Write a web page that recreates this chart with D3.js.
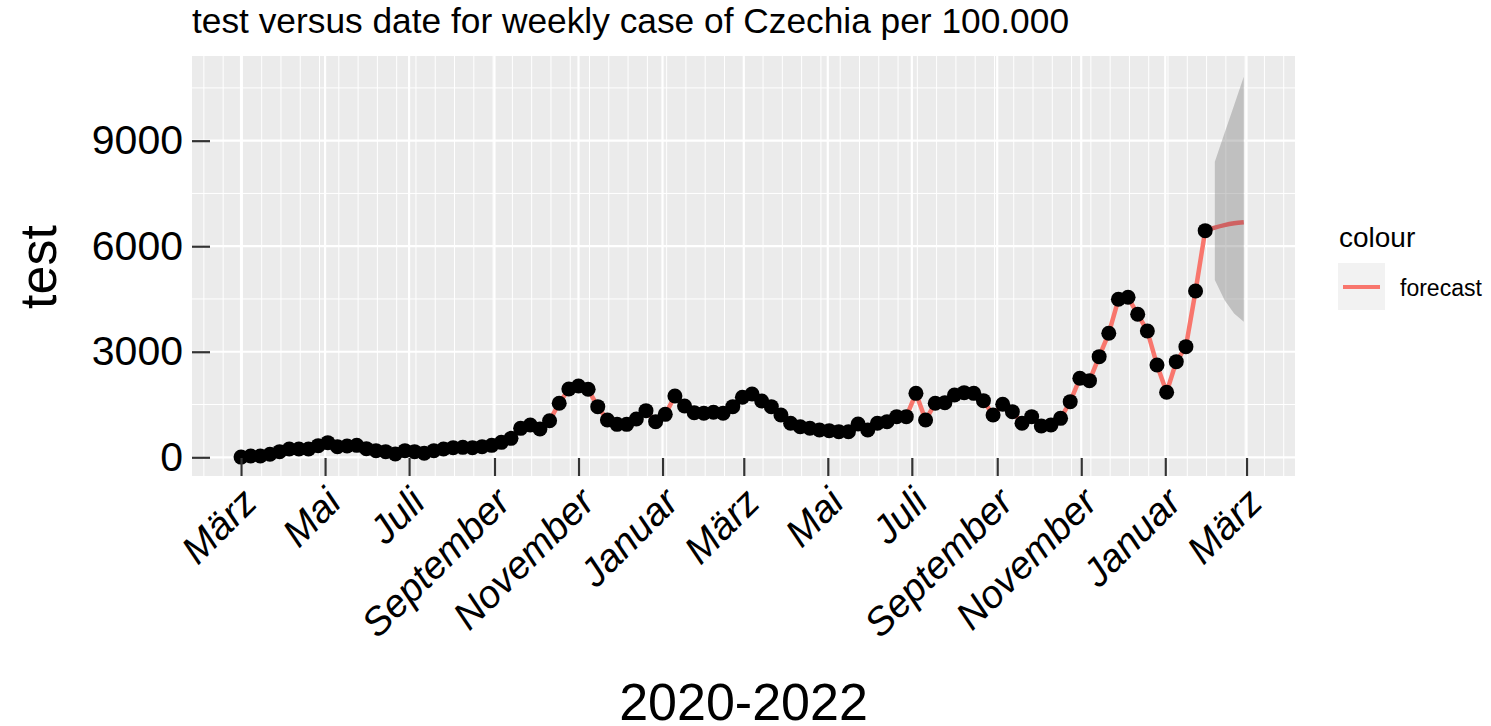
<!DOCTYPE html>
<html>
<head>
<meta charset="utf-8">
<script src="https://cdn.jsdelivr.net/npm/d3@7"></script>
<style>
  body { margin: 0; background: #fff; }
  text { font-family: "Liberation Sans", Arial, sans-serif; fill: #000; }
</style>
</head>
<body>
<div class="visHolder"></div>
<script>
// weekly values, first week starts 2020-03-01
const firstWeek = '2020-03-01';
const cases = [5, 37, 37, 85, 160, 236, 236, 236, 330, 416, 302, 321, 340, 245, 188, 160, 94, 188, 160, 113,
  188, 236, 274, 283, 274, 302, 340, 425, 539, 823, 918, 804, 1040, 1535, 1941, 2027, 1932, 1439, 1060, 937,
  937, 1089, 1325, 1013, 1221, 1742, 1458, 1268, 1250, 1279, 1250, 1439, 1705, 1799, 1600, 1439, 1202, 966, 870, 824,
  776, 757, 728, 728, 947, 776, 966, 1013, 1155, 1155, 1818, 1060, 1535, 1553, 1771, 1837, 1818, 1610, 1202, 1506,
  1297, 966, 1155, 890, 918, 1107, 1581, 2245, 2178, 2860, 3524, 4491, 4548, 4065, 3590, 2624, 1848, 2718, 3145, 4727,
  6442];
// forecast for the 4 weeks after the last observation
const forecastMean = [6530, 6600, 6650, 6680];
const forecastLow = [5040, 4470, 4090, 3855];
const forecastHigh = [8400, 9210, 10010, 10820];

const tickDates = ['2020-03-01', '2020-05-01', '2020-07-01', '2020-09-01', '2020-11-01', '2021-01-01', '2021-03-01',
  '2021-05-01', '2021-07-01', '2021-09-01', '2021-11-01', '2022-01-01', '2022-03-01'];
const tickLabels = ['März', 'Mai', 'Juli', 'September', 'November', 'Januar', 'März', 'Mai', 'Juli', 'September',
  'November', 'Januar', 'März'];
const yTicks = [0, 3000, 6000, 9000];
const yMinor = [1500, 4500, 7500, 10500];

const width = 1491;
const height = 726;
const panel = { left: 192, right: 1295, top: 56, bottom: 476 };
const parse = d3.utcParse('%Y-%m-%d');
const day = 864e5;

const start = parse(firstWeek);
const data = cases.map((v, i) => ({ date: d3.utcDay.offset(start, 7 * i), value: v }));
const last = data[data.length - 1];
const fc = forecastMean.map((v, i) => ({
  date: d3.utcDay.offset(last.date, 7 * (i + 1)),
  value: v, low: forecastLow[i], high: forecastHigh[i]
}));

const xScale = d3.scaleUtc()
  .domain([new Date(+parse('2020-03-01') - 35.6 * day), new Date(+parse('2022-03-01') + 35.2 * day)])
  .range([panel.left, panel.right]);
const yScale = d3.scaleLinear()
  .domain([-532, 11407])
  .range([panel.bottom, panel.top]);

const svg = d3.select('.visHolder')
  .append('svg')
  .attr('width', width)
  .attr('height', height);

svg.append('rect')
  .attr('x', panel.left).attr('y', panel.top)
  .attr('width', panel.right - panel.left).attr('height', panel.bottom - panel.top)
  .attr('fill', '#ebebeb');

// minor vertical grid every two weeks
const minorX = d3.utcDay.range(d3.utcDay.offset(parse('2020-03-02'), -28), xScale.domain()[1])
  .filter((d, i) => i % 14 === 0);
svg.append('g').selectAll('line')
  .data(minorX.filter(d => xScale(d) > panel.left))
  .enter().append('line')
  .attr('x1', d => xScale(d)).attr('x2', d => xScale(d))
  .attr('y1', panel.top).attr('y2', panel.bottom)
  .attr('stroke', '#fff').attr('stroke-width', 1);

svg.append('g').selectAll('line')
  .data(yMinor)
  .enter().append('line')
  .attr('x1', panel.left).attr('x2', panel.right)
  .attr('y1', d => yScale(d)).attr('y2', d => yScale(d))
  .attr('stroke', '#fff').attr('stroke-width', 1);

svg.append('g').selectAll('line')
  .data(tickDates.map(parse))
  .enter().append('line')
  .attr('x1', d => xScale(d)).attr('x2', d => xScale(d))
  .attr('y1', panel.top).attr('y2', panel.bottom)
  .attr('stroke', '#fff').attr('stroke-width', 2.2);

svg.append('g').selectAll('line')
  .data(yTicks)
  .enter().append('line')
  .attr('x1', panel.left).attr('x2', panel.right)
  .attr('y1', d => yScale(d)).attr('y2', d => yScale(d))
  .attr('stroke', '#fff').attr('stroke-width', 2.2);

// observed line
const line = d3.line().x(d => xScale(d.date)).y(d => yScale(d.value));
svg.append('path')
  .datum(data)
  .attr('d', line)
  .attr('fill', 'none')
  .attr('stroke', '#F8766D')
  .attr('stroke-width', 4.5)
  .attr('stroke-linejoin', 'round');

// forecast band + line
const area = d3.area().x(d => xScale(d.date)).y0(d => yScale(d.low)).y1(d => yScale(d.high));
svg.append('path')
  .datum(fc)
  .attr('d', area)
  .attr('fill', '#7f7f7f')
  .attr('fill-opacity', 0.4);

svg.append('path')
  .datum([last].concat(fc))
  .attr('d', d3.line().curve(d3.curveMonotoneX).x(d => xScale(d.date)).y(d => yScale(d.value)))
  .attr('fill', 'none')
  .attr('stroke', '#cf6262')
  .attr('stroke-width', 4.5);

svg.append('g').selectAll('circle')
  .data(data)
  .enter().append('circle')
  .attr('cx', d => xScale(d.date))
  .attr('cy', d => yScale(d.value))
  .attr('r', 7.5)
  .attr('fill', '#000');

// axes, ticks point into the panel
const xAxis = d3.axisBottom(xScale)
  .tickValues(tickDates.map(parse))
  .tickFormat((d, i) => tickLabels[i])
  .tickSize(-18);
const gx = svg.append('g')
  .attr('transform', 'translate(0,' + panel.bottom + ')')
  .call(xAxis);
gx.select('.domain').remove();
gx.selectAll('.tick line').attr('stroke', '#333').attr('stroke-width', 2.2);
gx.selectAll('.tick text')
  .attr('font-size', 39)
  .attr('font-style', 'italic')
  .attr('font-family', null)
  .attr('fill', '#000')
  .attr('text-anchor', 'end')
  .attr('y', 0)
  .attr('dy', '0.71em')
  .attr('transform', 'translate(-2,9) rotate(-45)');

const yAxis = d3.axisLeft(yScale)
  .tickValues(yTicks)
  .tickFormat(d3.format('d'))
  .tickSize(-18)
  .tickPadding(9);
const gy = svg.append('g')
  .attr('transform', 'translate(' + panel.left + ',0)')
  .call(yAxis);
gy.select('.domain').remove();
gy.selectAll('.tick line').attr('stroke', '#333').attr('stroke-width', 2.2);
gy.selectAll('.tick text')
  .attr('font-size', 41)
  .attr('font-family', null)
  .attr('fill', '#000');

svg.append('text')
  .attr('x', panel.left).attr('y', 33)
  .attr('font-size', 35.3)
  .text('test versus date for weekly case of Czechia per 100.000');

svg.append('text')
  .attr('transform', 'translate(56,267) rotate(-90)')
  .attr('text-anchor', 'middle')
  .attr('font-size', 52)
  .text('test');

svg.append('text')
  .attr('x', (panel.left + panel.right) / 2).attr('y', 720)
  .attr('text-anchor', 'middle')
  .attr('font-size', 52)
  .text('2020-2022');

// legend
svg.append('text').attr('x', 1339).attr('y', 247).attr('font-size', 28).text('colour');
svg.append('rect')
  .attr('x', 1338).attr('y', 263).attr('width', 47).attr('height', 47)
  .attr('fill', '#f2f2f2');
svg.append('line')
  .attr('x1', 1343).attr('x2', 1380).attr('y1', 287).attr('y2', 287)
  .attr('stroke', '#F8766D').attr('stroke-width', 4);
svg.append('text').attr('x', 1400).attr('y', 296).attr('font-size', 23).text('forecast');
</script>
</body>
</html>
